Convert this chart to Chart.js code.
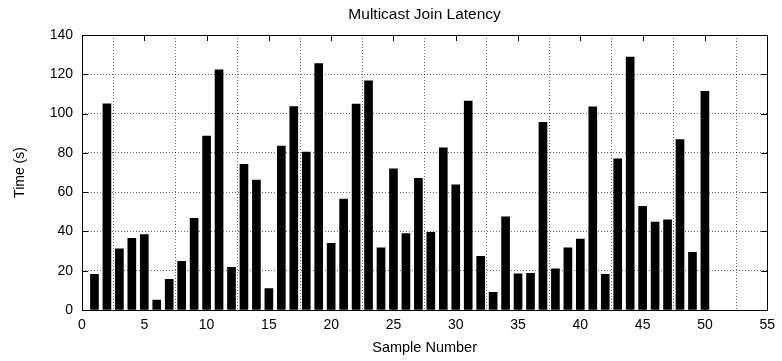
<!DOCTYPE html>
<html lang="en">
<head>
    <meta charset="UTF-8">
    <title>Multicast Join Latency</title>
    <style>
        body {
            margin: 0;
            background: #fff;
        }
        #wrap {
            width: 782px;
            height: 361px;
        }
    </style>
    <script src="https://cdn.jsdelivr.net/npm/chart.js@4.4.1/dist/chart.umd.js"></script>
</head>
<body>
    <div id="wrap">
        <canvas id="latencyChart" width="782" height="361"></canvas>
    </div>

    <script>
        // Sample numbers and measured join latency in seconds
        const samples = [
            1, 2, 3, 4, 5, 6, 7, 8, 9, 10,
            11, 12, 13, 14, 15, 16, 17, 18, 19, 20,
            21, 22, 23, 24, 25, 26, 27, 28, 29, 30,
            31, 32, 33, 34, 35, 36, 37, 38, 39, 40,
            41, 42, 43, 44, 45, 46, 47, 48, 49, 50
        ];
        const latency = [
            18.2, 105, 31.2, 36.5, 38.4, 5.1, 15.6, 24.8, 46.7, 88.6,
            122.3, 21.7, 74.2, 66.2, 10.9, 83.5, 103.6, 80.4, 125.4, 34,
            56.5, 104.8, 116.7, 31.6, 71.9, 38.9, 67, 39.6, 82.6, 63.7,
            106.4, 27.3, 9, 47.4, 18.4, 18.7, 95.6, 20.9, 31.7, 36.1,
            103.4, 18.2, 76.9, 128.8, 52.8, 44.8, 45.9, 86.8, 29.3, 111.3
        ];

        const xMin = 0, xMax = 55, xStep = 5;
        const yMin = 0, yMax = 140, yStep = 20;

        const FONT = "'Liberation Sans', Arial, Helvetica, sans-serif";
        Chart.defaults.font.family = FONT;
        Chart.defaults.color = '#000';

        // frame round the plot plus the small inward tic marks on all four sides
        const framePlugin = {
            id: 'frame',
            afterDatasetsDraw(chart) {
                const { ctx, chartArea: a, scales } = chart;
                const len = 6;
                ctx.save();
                ctx.strokeStyle = '#000';
                ctx.lineWidth = 1;
                ctx.beginPath();
                scales.x.ticks.forEach(t => {
                    const px = Math.round(scales.x.getPixelForValue(t.value)) + 0.5;
                    ctx.moveTo(px, a.bottom);
                    ctx.lineTo(px, a.bottom - len);
                    ctx.moveTo(px, a.top);
                    ctx.lineTo(px, a.top + len);
                });
                scales.y.ticks.forEach(t => {
                    const py = Math.round(scales.y.getPixelForValue(t.value)) + 0.5;
                    ctx.moveTo(a.left, py);
                    ctx.lineTo(a.left + len, py);
                    ctx.moveTo(a.right, py);
                    ctx.lineTo(a.right - len, py);
                });
                ctx.stroke();
                ctx.strokeRect(Math.round(a.left) + 0.5, Math.round(a.top) + 0.5,
                    Math.round(a.right - a.left), Math.round(a.bottom - a.top));
                ctx.restore();
            }
        };

        const gridDots = {
            color: 'rgba(0, 0, 0, 0.6)',
            lineWidth: 1,
            drawTicks: false
        };

        new Chart(document.getElementById('latencyChart'), {
            type: 'bar',
            data: {
                datasets: [{
                    label: 'Join latency',
                    data: samples.map((s, i) => ({ x: s, y: latency[i] })),
                    backgroundColor: '#000',
                    borderWidth: 0,
                    barThickness: 8
                }]
            },
            options: {
                responsive: false,
                animation: false,
                layout: { padding: 0 },
                scales: {
                    x: {
                        type: 'linear',
                        position: 'bottom',
                        min: xMin,
                        max: xMax,
                        offset: false,
                        grid: gridDots,
                        border: { display: false, dash: [1, 2] },
                        ticks: {
                            stepSize: xStep,
                            padding: 7,
                            maxRotation: 0,
                            font: { size: 14 }
                        },
                        title: {
                            display: true,
                            text: 'Sample Number',
                            font: { size: 14.5 },
                            padding: { top: 0, bottom: 4 }
                        },
                        afterFit: s => { s.height = 51; }
                    },
                    top: {
                        type: 'linear',
                        position: 'top',
                        min: xMin,
                        max: xMax,
                        grid: { display: false },
                        border: { display: false },
                        ticks: { display: false },
                        title: {
                            display: true,
                            text: 'Multicast Join Latency',
                            font: { size: 15.5 },
                            padding: { top: 5, bottom: 0 }
                        },
                        afterFit: s => { s.height = 35; }
                    },
                    y: {
                        min: yMin,
                        max: yMax,
                        grid: gridDots,
                        border: { display: false, dash: [1, 2] },
                        ticks: {
                            stepSize: yStep,
                            padding: 9,
                            font: { size: 14 }
                        },
                        title: {
                            display: true,
                            text: 'Time (s)',
                            font: { size: 14 },
                            padding: { top: 12, bottom: 0 }
                        },
                        afterFit: s => { s.width = 82; }
                    }
                },
                plugins: {
                    legend: { display: false },
                    title: { display: false },
                    tooltip: { enabled: false }
                }
            },
            plugins: [framePlugin]
        });
    </script>
</body>
</html>
